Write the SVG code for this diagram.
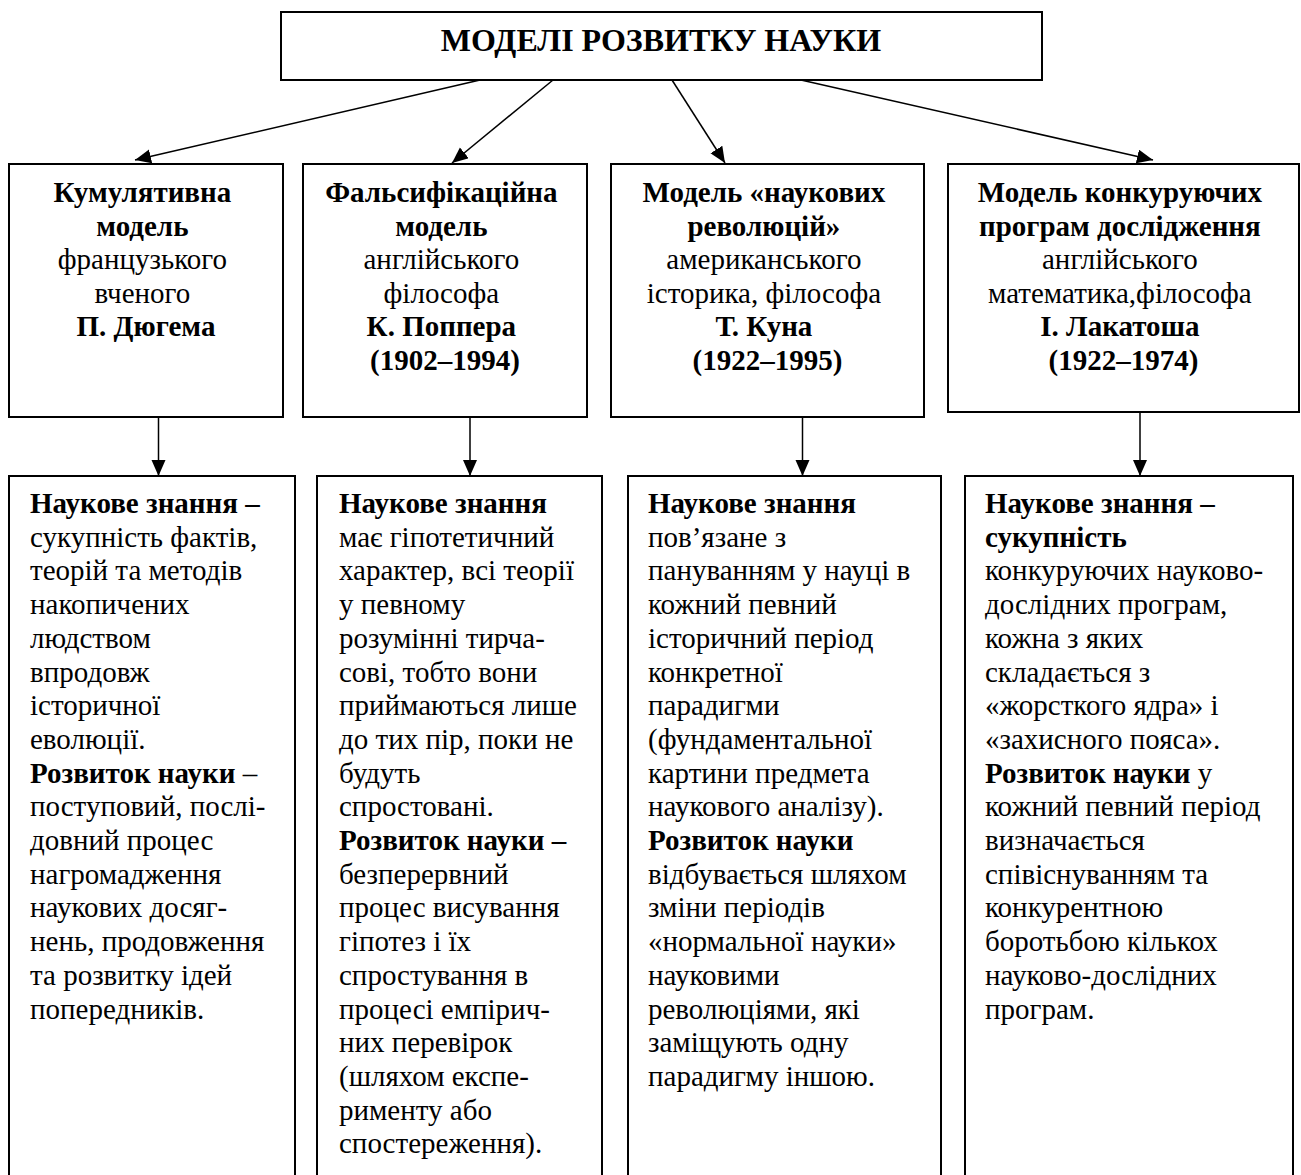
<svg xmlns="http://www.w3.org/2000/svg" width="1301" height="1175" viewBox="0 0 1301 1175">
<style>
  .box { fill: #fff; stroke: #000; stroke-width: 2; }
  .t { font-family: "Liberation Serif", "Times New Roman", serif; font-size: 29px; fill: #000; }
  .c { text-anchor: middle; }
  .b { font-weight: bold; }
  .title { font-family: "Liberation Serif", "Times New Roman", serif; font-size: 32px; font-weight: bold; text-anchor: middle; }
  .conn { stroke: #000; stroke-width: 1.5; fill: none; marker-end: url(#arr); }
</style>
<defs>
  <marker id="arr" markerUnits="userSpaceOnUse" markerWidth="17" markerHeight="15" refX="16" refY="7" orient="auto">
    <path d="M0,0 L16,7 L0,14 Z" fill="#000"/>
  </marker>
</defs>
<rect width="1301" height="1175" fill="#fff"/>

<g id="connectors">
  <line class="conn" x1="480" y1="80" x2="135" y2="160"/>
  <line class="conn" x1="553" y1="80" x2="452" y2="163"/>
  <line class="conn" x1="672" y1="80" x2="725" y2="163"/>
  <line class="conn" x1="801" y1="80" x2="1153" y2="160"/>
  <line class="conn" x1="158.5" y1="417" x2="158.5" y2="476"/>
  <line class="conn" x1="470" y1="417" x2="470" y2="476"/>
  <line class="conn" x1="802.5" y1="417" x2="802.5" y2="476"/>
  <line class="conn" x1="1140" y1="412" x2="1140" y2="476"/>
</g>

<g id="title">
  <rect class="box" x="281" y="12" width="761" height="68"/>
  <text class="title" x="661" y="51">МОДЕЛІ РОЗВИТКУ НАУКИ</text>
</g>

<g id="model-cumulative">
  <rect class="box" x="9" y="164" width="274" height="253"/>
  <text class="t c" x="146">
    <tspan class="b" x="146" y="202">Кумулятивна</tspan>
    <tspan class="b" x="146" y="235.5">модель</tspan>
    <tspan x="146" y="269">французького</tspan>
    <tspan x="146" y="302.5">вченого</tspan>
    <tspan class="b" x="146" y="336">П. Дюгема</tspan>
  </text>
</g>

<g id="model-falsification">
  <rect class="box" x="303" y="164" width="284" height="253"/>
  <text class="t c">
    <tspan class="b" x="445" y="202">Фальсифікаційна</tspan>
    <tspan class="b" x="445" y="235.5">модель</tspan>
    <tspan x="445" y="269">англійського</tspan>
    <tspan x="445" y="302.5">філософа</tspan>
    <tspan class="b" x="445" y="336">К. Поппера</tspan>
    <tspan class="b" x="445" y="369.5">(1902–1994)</tspan>
  </text>
</g>

<g id="model-revolutions">
  <rect class="box" x="611" y="164" width="313" height="253"/>
  <text class="t c">
    <tspan class="b" x="767.5" y="202">Модель «наукових</tspan>
    <tspan class="b" x="767.5" y="235.5">революцій»</tspan>
    <tspan x="767.5" y="269">американського</tspan>
    <tspan x="767.5" y="302.5">історика, філософа</tspan>
    <tspan class="b" x="767.5" y="336">Т. Куна</tspan>
    <tspan class="b" x="767.5" y="369.5">(1922–1995)</tspan>
  </text>
</g>

<g id="model-programs">
  <rect class="box" x="948" y="164" width="351" height="248"/>
  <text class="t c">
    <tspan class="b" x="1123.5" y="202">Модель конкуруючих</tspan>
    <tspan class="b" x="1123.5" y="235.5">програм дослідження</tspan>
    <tspan x="1123.5" y="269">англійського</tspan>
    <tspan x="1123.5" y="302.5">математика,філософа</tspan>
    <tspan class="b" x="1123.5" y="336">І. Лакатоша</tspan>
    <tspan class="b" x="1123.5" y="369.5">(1922–1974)</tspan>
  </text>
</g>

<g id="desc-cumulative">
  <rect class="box" x="9" y="476" width="286" height="720"/>
  <text class="t">
    <tspan class="b" x="30" y="513">Наукове знання –</tspan>
    <tspan x="30" y="546.7">сукупність фактів,</tspan>
    <tspan x="30" y="580.4">теорій та методів</tspan>
    <tspan x="30" y="614.1">накопичених</tspan>
    <tspan x="30" y="647.8">людством</tspan>
    <tspan x="30" y="681.5">впродовж</tspan>
    <tspan x="30" y="715.2">історичної</tspan>
    <tspan x="30" y="748.9">еволюції.</tspan>
    <tspan x="30" y="782.6"><tspan class="b">Розвиток науки</tspan> –</tspan>
    <tspan x="30" y="816.3">поступовий, послі-</tspan>
    <tspan x="30" y="850">довний процес</tspan>
    <tspan x="30" y="883.7">нагромадження</tspan>
    <tspan x="30" y="917.4">наукових досяг-</tspan>
    <tspan x="30" y="951.1">нень, продовження</tspan>
    <tspan x="30" y="984.8">та розвитку ідей</tspan>
    <tspan x="30" y="1018.5">попередників.</tspan>
  </text>
</g>

<g id="desc-falsification">
  <rect class="box" x="317" y="476" width="285" height="720"/>
  <text class="t">
    <tspan class="b" x="339" y="513">Наукове знання</tspan>
    <tspan x="339" y="546.7">має гіпотетичний</tspan>
    <tspan x="339" y="580.4">характер, всі теорії</tspan>
    <tspan x="339" y="614.1">у певному</tspan>
    <tspan x="339" y="647.8">розумінні тирча-</tspan>
    <tspan x="339" y="681.5">сові, тобто вони</tspan>
    <tspan x="339" y="715.2">приймаються лише</tspan>
    <tspan x="339" y="748.9">до тих пір, поки не</tspan>
    <tspan x="339" y="782.6">будуть</tspan>
    <tspan x="339" y="816.3">спростовані.</tspan>
    <tspan class="b" x="339" y="850">Розвиток науки –</tspan>
    <tspan x="339" y="883.7">безперервний</tspan>
    <tspan x="339" y="917.4">процес висування</tspan>
    <tspan x="339" y="951.1">гіпотез і їх</tspan>
    <tspan x="339" y="984.8">спростування в</tspan>
    <tspan x="339" y="1018.5">процесі емпірич-</tspan>
    <tspan x="339" y="1052.2">них перевірок</tspan>
    <tspan x="339" y="1085.9">(шляхом експе-</tspan>
    <tspan x="339" y="1119.6">рименту або</tspan>
    <tspan x="339" y="1153.3">спостереження).</tspan>
  </text>
</g>

<g id="desc-revolutions">
  <rect class="box" x="628" y="476" width="313" height="720"/>
  <text class="t">
    <tspan class="b" x="648" y="513">Наукове знання</tspan>
    <tspan x="648" y="546.7">пов’язане з</tspan>
    <tspan x="648" y="580.4">пануванням у науці в</tspan>
    <tspan x="648" y="614.1">кожний певний</tspan>
    <tspan x="648" y="647.8">історичний період</tspan>
    <tspan x="648" y="681.5">конкретної</tspan>
    <tspan x="648" y="715.2">парадигми</tspan>
    <tspan x="648" y="748.9">(фундаментальної</tspan>
    <tspan x="648" y="782.6">картини предмета</tspan>
    <tspan x="648" y="816.3">наукового аналізу).</tspan>
    <tspan class="b" x="648" y="850">Розвиток науки</tspan>
    <tspan x="648" y="883.7">відбувається шляхом</tspan>
    <tspan x="648" y="917.4">зміни періодів</tspan>
    <tspan x="648" y="951.1">«нормальної науки»</tspan>
    <tspan x="648" y="984.8">науковими</tspan>
    <tspan x="648" y="1018.5">революціями, які</tspan>
    <tspan x="648" y="1052.2">заміщують одну</tspan>
    <tspan x="648" y="1085.9">парадигму іншою.</tspan>
  </text>
</g>

<g id="desc-programs">
  <rect class="box" x="965" y="476" width="328" height="720"/>
  <text class="t">
    <tspan class="b" x="985" y="513">Наукове знання –</tspan>
    <tspan class="b" x="985" y="546.7">сукупність</tspan>
    <tspan x="985" y="580.4">конкуруючих науково-</tspan>
    <tspan x="985" y="614.1">дослідних програм,</tspan>
    <tspan x="985" y="647.8">кожна з яких</tspan>
    <tspan x="985" y="681.5">складається з</tspan>
    <tspan x="985" y="715.2">«жорсткого ядра» і</tspan>
    <tspan x="985" y="748.9">«захисного пояса».</tspan>
    <tspan x="985" y="782.6"><tspan class="b">Розвиток науки</tspan> у</tspan>
    <tspan x="985" y="816.3">кожний певний період</tspan>
    <tspan x="985" y="850">визначається</tspan>
    <tspan x="985" y="883.7">співіснуванням та</tspan>
    <tspan x="985" y="917.4">конкурентною</tspan>
    <tspan x="985" y="951.1">боротьбою кількох</tspan>
    <tspan x="985" y="984.8">науково-дослідних</tspan>
    <tspan x="985" y="1018.5">програм.</tspan>
  </text>
</g>
</svg>
